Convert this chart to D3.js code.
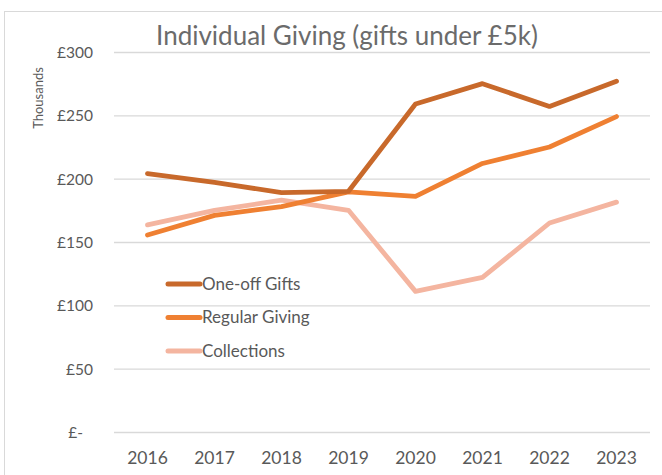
<!DOCTYPE html>
<html>
<head>
<meta charset="utf-8">
<script src="https://cdn.jsdelivr.net/npm/d3@7"></script>
<style>
  html, body { margin: 0; padding: 0; background: #fff; }
  svg { display: block; }
  text { font-family: Lato, "Open Sans", sans-serif; }
</style>
</head>
<body>
<svg id="chart" width="662" height="475"></svg>
<script>
const years = ["2016","2017","2018","2019","2020","2021","2022","2023"];
const oneOffGifts   = [204, 197, 189, 190, 259, 275, 257, 277];
const regularGiving = [155.5, 171, 178, 189.5, 186, 212, 225, 249];
const collections   = [163.5, 175, 183, 175, 111, 122, 165, 181.5];
const yTicks = [0, 50, 100, 150, 200, 250, 300];
const seriesNames = ["One-off Gifts", "Regular Giving", "Collections"];
const seriesColors = ["#C8692B", "#EF8032", "#F4B5A0"];
const titleText = "Individual Giving (gifts under £5k)";
const yAxisTitle = "Thousands";

const series = [oneOffGifts, regularGiving, collections].map((v, i) => ({
  name: seriesNames[i], color: seriesColors[i], values: v
}));

const svg = d3.select("#chart");
const plot = { left: 114, right: 650, top: 52, bottom: 432 };

function fitFont(sel, base, target) {
  sel.style("font-size", base + "px");
  const w = sel.node().getComputedTextLength();
  sel.style("font-size", (base * target / w).toFixed(2) + "px");
}

// chart border
svg.append("rect")
  .attr("x", 4.5).attr("y", 11.5)
  .attr("width", 700).attr("height", 500)
  .attr("fill", "#fff").attr("stroke", "#d9d9d9").attr("stroke-width", 1);

const x = d3.scaleBand().domain(years).range([plot.left, plot.right]).padding(0);
const y = d3.scaleLinear().domain([0, 300]).range([plot.bottom, plot.top]);

// Y axis + gridlines
const yAxis = svg.append("g")
  .attr("transform", `translate(${plot.left},0)`)
  .call(d3.axisLeft(y).tickValues(yTicks)
    .tickSize(-(plot.right - plot.left))
    .tickPadding(21)
    .tickFormat(d => d === 0 ? "£-" : "£" + d));
yAxis.select(".domain").remove();
yAxis.selectAll(".tick line").attr("stroke", "#d9d9d9").attr("stroke-width", 1.3);
yAxis.selectAll(".tick text")
  .attr("fill", "#595959")
  .style("font-size", "15.5px")
  .attr("dy", "0.35em")
  .attr("dx", d => d === 0 ? -10 : 0);

// X axis
const xAxis = svg.append("g")
  .attr("transform", `translate(0,${plot.bottom})`)
  .call(d3.axisBottom(x).tickSize(0));
xAxis.select(".domain").remove();
xAxis.selectAll(".tick text")
  .attr("fill", "#595959")
  .attr("y", 32).attr("dy", 0)
  .style("font-size", "17.5px");

// lines
const line = d3.line()
  .x((d, i) => x(years[i]) + x.bandwidth() / 2)
  .y(d => y(d));

svg.append("g").selectAll("path")
  .data(series.slice().reverse())
  .join("path")
  .attr("d", d => line(d.values))
  .attr("fill", "none")
  .attr("stroke", d => d.color)
  .attr("stroke-width", 4.8)
  .attr("stroke-linecap", "round")
  .attr("stroke-linejoin", "round");

// title
const title = svg.append("text")
  .attr("x", 347).attr("y", 45)
  .attr("text-anchor", "middle")
  .attr("fill", "#6b6b6b")
  .text(titleText);
fitFont(title, 24, 382);

// y axis title
svg.append("text")
  .attr("transform", "translate(43,98) rotate(-90)")
  .attr("text-anchor", "middle")
  .attr("fill", "#595959")
  .style("font-size", "13px")
  .text(yAxisTitle);

// legend
const legend = svg.append("g");
const rows = legend.selectAll("g")
  .data(series)
  .join("g")
  .attr("transform", (d, i) => `translate(168,${284 + i * 33.5})`);
rows.append("line")
  .attr("x1", 0).attr("x2", 32).attr("y1", 0).attr("y2", 0)
  .attr("stroke", d => d.color)
  .attr("stroke-width", 5)
  .attr("stroke-linecap", "round");
rows.append("text")
  .attr("x", 34).attr("y", 0).attr("dy", "0.35em")
  .attr("fill", "#595959")
  .style("font-size", "17px")
  .text(d => d.name);
</script>
</body>
</html>
